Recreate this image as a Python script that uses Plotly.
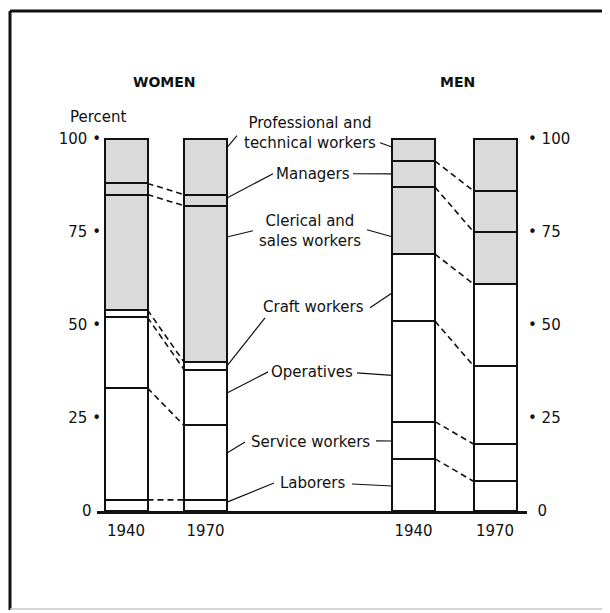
import plotly.graph_objs as go

# share of employed workers by occupation, percent (bottom of bar to top)
categories = ["Laborers", "Service workers", "Operatives", "Craft workers",
              "Clerical and sales workers", "Managers", "Professional and technical workers"]
label_text = ["Laborers", "Service workers", "Operatives", "Craft workers",
              "Clerical and<br>sales workers", "Managers", "Professional and<br>technical workers"]
years = ["1940", "1970"]
women_1940 = [3, 30, 19, 2, 31, 3, 12]
women_1970 = [3, 20, 15, 2, 42, 3, 15]
men_1940 = [14, 10, 27, 18, 18, 7, 6]
men_1970 = [8, 10, 21, 22, 14, 11, 14]
y_ticks = [0, 25, 50, 75, 100]

# ---- layout constants (screen pixels; the page body adds an 8px offset) ----
W, H = 610, 613
PAGE_OFF = 8
PLOT_L, PLOT_R = 97, 527          # x axis runs in screen pixels
BASE_Y, TOP_Y = 511, 139          # screen rows of 0 % and 100 %
Y_MAX = 101
PLOT_H = round((BASE_Y - TOP_Y) * Y_MAX / 100)
MARGIN_B = H - (BASE_Y - PAGE_OFF)
MARGIN_T = H - MARGIN_B - PLOT_H
BAR_W = 43
bar_x = [126, 205.5, 413.5, 495]
SHADE = "#dadada"
INK = "#111111"
FONT = "DejaVu Sans, sans-serif"
FS = 15

# where each leader meets its bar (fraction of the segment) and where the text ends
frac_left = [0.8, 0.63, 0.58, 0.5, 0.8, 0.7, 0.84]
frac_right = [0.48, 0.48, 0.46, 0.42, 0.26, 0.51, 0.63]
label_pos = [(312, 483), (310, 442), (312, 372), (313, 307), (310, 231), (313, 174), (310, 133)]
left_end = [(274, 483), (245, 442), (268, 372), (265, 318), (253, 231), (273, 174), (237, 136)]
right_end = [(352, 484), (376, 441), (357, 373), (370, 308), (367, 230), (353, 174), (380, 143)]


def val(y):
    """screen row -> percent on the y axis"""
    return (BASE_Y - y) / (BASE_Y - TOP_Y) * 100


def px(x):
    return (x - PLOT_L) / (PLOT_R - PLOT_L)


def py(y):
    return (BASE_Y - y) / PLOT_H


def cumulative(vals):
    out = [0]
    for v in vals:
        out.append(out[-1] + v)
    return out


fig = go.Figure()

series = [women_1940, women_1970, men_1940, men_1970]
for i, cat in enumerate(categories):
    fig.add_trace(go.Bar(
        x=bar_x,
        y=[s[i] for s in series],
        width=BAR_W,
        name=cat,
        marker=dict(color=SHADE if i >= 4 else "white",
                    line=dict(color=INK, width=2)),
        showlegend=False,
        hoverinfo="name+y",
    ))

# dashed lines joining the same boundary in 1940 and 1970
cum = [cumulative(s) for s in series]
dx, dy = [], []
for a, b in [(0, 1), (2, 3)]:
    for k in range(1, len(categories)):
        dx += [bar_x[a] + BAR_W / 2, bar_x[b] - BAR_W / 2, None]
        dy += [cum[a][k], cum[b][k], None]
fig.add_trace(go.Scatter(x=dx, y=dy, mode="lines", showlegend=False, hoverinfo="skip",
                         line=dict(color=INK, width=1.6, dash="6px,4px")))

# leader lines from the labels to women 1970 and men 1940
lx, ly = [], []
for i in range(len(categories)):
    yl = cum[1][i] + frac_left[i] * women_1970[i]
    yr = cum[2][i] + frac_right[i] * men_1940[i]
    lx += [bar_x[1] + BAR_W / 2, left_end[i][0], None, right_end[i][0], bar_x[2] - BAR_W / 2, None]
    ly += [yl, val(left_end[i][1]), None, val(right_end[i][1]), yr, None]
fig.add_trace(go.Scatter(x=lx, y=ly, mode="lines", showlegend=False, hoverinfo="skip",
                         line=dict(color=INK, width=1.2)))

# dummy trace so the right-hand axis is drawn
fig.add_trace(go.Scatter(x=[None], y=[None], yaxis="y2", showlegend=False))

for i, t in enumerate(label_text):
    fig.add_annotation(xref="paper", yref="paper", x=px(label_pos[i][0]), y=py(label_pos[i][1]),
                       text=t, showarrow=False, xanchor="center", yanchor="middle",
                       align="center", font=dict(size=FS, color=INK))

for text, x, y in [("<b>WOMEN</b>", 164, 82), ("<b>MEN</b>", 457, 82), ("Percent", 98, 117)]:
    fig.add_annotation(xref="paper", yref="paper", x=px(x), y=py(y), text=text,
                       showarrow=False, xanchor="center", yanchor="middle",
                       font=dict(size=14 if "<b>" in text else FS, color=INK))

# page frame: heavy top/left, faint right/bottom
frame = [
    dict(x0=10, y0=11, x1=10, y1=610, color=INK, width=3),
    dict(x0=10, y0=11, x1=610, y1=11, color=INK, width=3),
    dict(x0=606, y0=11, x1=606, y1=609, color="#c8c8c8", width=1.5),
    dict(x0=10, y0=609, x1=606, y1=609, color="#c8c8c8", width=1.5),
]
for f in frame:
    fig.add_shape(type="line", xref="paper", yref="paper",
                  x0=px(f["x0"]), x1=px(f["x1"]), y0=py(f["y0"]), y1=py(f["y1"]),
                  line=dict(color=f["color"], width=f["width"]))

left_text = ["0\u00a0\u00a0"] + [f"{v} •" for v in y_ticks[1:]]
right_text = ["\u00a0 0"] + [f"• {v}" for v in y_ticks[1:]]

fig.update_layout(
    width=W, height=H,
    margin=dict(l=PLOT_L - PAGE_OFF, r=W - (PLOT_R - PAGE_OFF), t=MARGIN_T, b=MARGIN_B,
                autoexpand=False),
    barmode="stack",
    bargap=0,
    plot_bgcolor="white",
    paper_bgcolor="white",
    font=dict(family=FONT, size=FS, color=INK),
    xaxis=dict(range=[PLOT_L, PLOT_R], tickvals=bar_x, ticktext=years * 2,
               showline=True, linewidth=3, linecolor=INK, showgrid=False,
               zeroline=False, ticks="", ticklabelstandoff=4, fixedrange=True),
    yaxis=dict(range=[0, Y_MAX], tickvals=y_ticks, ticktext=left_text, showgrid=False,
               zeroline=False, showline=False, ticks="", ticklabelstandoff=-5,
               fixedrange=True),
    yaxis2=dict(range=[0, Y_MAX], tickvals=y_ticks, ticktext=right_text, overlaying="y",
                side="right", showgrid=False, zeroline=False, showline=False, ticks="",
                ticklabelstandoff=0, fixedrange=True),
)

fig.write_html("out.html")
